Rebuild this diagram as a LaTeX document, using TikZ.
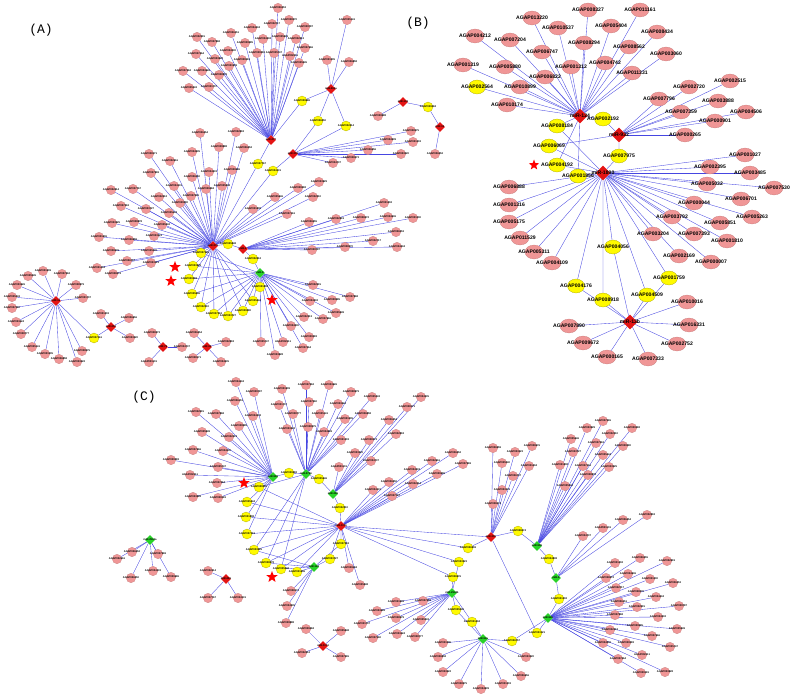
\documentclass[tikz,border=0pt]{standalone}
\usepackage{fontspec}
\setmainfont{Liberation Sans}
\newfontfamily\panelfnt{Liberation Mono}
\usetikzlibrary{shapes.geometric}

\definecolor{genepink}{RGB}{240,150,150}
\definecolor{tgtyellow}{RGB}{255,250,0}
\definecolor{mirred}{RGB}{228,20,20}
\definecolor{mirgreen}{RGB}{40,210,40}
\definecolor{linkblue}{RGB}{70,70,225}

\pgfdeclarelayer{edges}
\pgfsetlayers{edges,main}

\newcommand{\tinyfont}{\fontsize{2.6}{2.6}\selectfont\bfseries}
\newcommand{\bfont}{\fontsize{5.1}{5.1}\selectfont\bfseries}
% gene ids for the unreadable small labels
\newcommand{\agapid}[1]{\pgfmathtruncatemacro\agapnum{1000+mod((#1)*53,89)*101}AGAP00\agapnum}

\tikzset{
  link/.style={draw=linkblue, line width=.35pt},
  gene/.style={circle, fill=genepink, draw=genepink!80!black, line width=.2pt,
    minimum size=9.5pt, inner sep=0pt,
    label={[font=\tinyfont, inner sep=0pt]center:#1}},
  tgt/.style={circle, fill=tgtyellow, draw=tgtyellow!60!black, line width=.2pt,
    minimum size=10pt, inner sep=0pt,
    label={[font=\tinyfont, inner sep=0pt]center:#1}},
  mir/.style={diamond, fill=mirred, minimum size=10pt, inner sep=0pt,
    label={[font=\tinyfont, inner sep=0pt]center:#1}},
  mirg/.style={diamond, fill=mirgreen, minimum size=10pt, inner sep=0pt,
    label={[font=\tinyfont, inner sep=0pt]center:#1}},
  bgene/.style={ellipse, fill=genepink, draw=genepink!80!black, line width=.2pt,
    minimum width=18pt, minimum height=14pt, inner sep=0pt,
    label={[font=\bfont, inner sep=0pt]center:#1}},
  btgt/.style={ellipse, fill=tgtyellow, draw=tgtyellow!60!black, line width=.2pt,
    minimum width=17pt, minimum height=14pt, inner sep=0pt,
    label={[font=\bfont, inner sep=0pt]center:#1}},
  bmir/.style={diamond, fill=mirred, minimum size=15pt, inner sep=0pt,
    label={[font=\bfont, inner sep=0pt]center:#1}},
  hit/.style={star, star points=5, star point ratio=2.4, fill=red,
    minimum size=12pt, inner sep=0pt},
  panel/.style={font=\panelfnt\fontsize{13}{13}\selectfont, inner sep=0pt}
}

% leaf lists (x/y), one per miRNA
\def\aOne{278/8,272/24,289/20,252/28,305/27,231/33,197/37,212/42,
    263/39,245/43,280/37,296/39,305/48,228/51,257/53,274/53,290/56,196/54,215/59,
    242/60,299/63,229/66,183/71,202/71,219/75,189/88,209/87}
\def\aTwo{347/20,327/60,349/62}
\def\aThree{411/131,388/140,413/142,368/150,401/154,351/158,333/163}
\def\aZero{200/133,236/132,149/154,192/152,219/147,244/148,170/161,
    151/173,209/172,232/170,192/177,111/190,133/189,174/186,206/189,222/186,159/197,
    191/196,319/182,298/188,275/197,313/197,121/206,146/209,180/203,169/213,253/209,
    287/214,112/223,134/222,162/225,99/237,129/240,154/236,111/251,149/251,97/268,
    127/261,151/263,113/274}
\def\aFour{384/203,309/222,336/219,361/218,388/217,413/218,396/232,
    373/241,345/247,397/247,312/250}
\def\aFive{313/285,350/297,310/301,332/300,336/313,304/317,323/319,
    291/326,309/337,261/342,283/342,303/348,275/355}
\def\aSix{28/276,43/271,62/274,17/285,76/285,12/297,83/298,12/308,
    16/322,21/334,32/347,45/354,59/359,77/362,82/351}
\def\aSmall{101/314/a7,129/318/a7,130/338/a7,152/333/a8,
    182/347/a8,149/362/a8,194/333/a9,226/342/a9,193/358/a9,221/362/a9,
    378/116/a10,435/154/a11}
\def\aShared{302/101/a1/a2,318/121/a2/a3,346/126/a2/a3,
    258/164/a1/a0,273/171/a3/a0,428/107/a10/a11,228/244/a0/a4,253/259/a4/a5,
    201/253/a0/a5,193/266/a0/a5,189/279/a0/a5,192/294/a0/a5,201/307/a0/a5,
    214/314/a0/a5,228/316/a0/a5,243/311/a0/a5,253/301/a0/a5,260/287/a0/a5,
    94/338/a6/a7}
\def\bOne{013220/532/18,008327/588/10,011161/640/10,010537/558/28,
    005404/611/26,008434/657/32,004212/475/36,007204/510/40,008294/584/43,
    008562/629/47,006747/542/52,003060/666/54,001319/463/65,005880/505/67,
    004742/605/63,001312/571/67,006822/545/77,011331/632/73,010899/520/87,
    010174/507/105}
\def\bTwo{002515/730/81,002720/689/87,007796/659/99,003888/718/101,
    007359/681/112,004506/746/112,000901/715/121,000265/685/135}
\def\bThree{001027/745/155,002395/710/167,003485/750/173,005032/707/184,
    007530/774/188,006701/741/199,006888/509/187,001316/509/205,000044/694/203,
    005175/509/222,003792/672/217,005851/720/223,005263/752/217,011529/520/238,
    003204/653/234,007393/694/234,001810/727/241,005311/534/252,002169/679/256,
    000007/711/262,004109/552/263}
\def\bFour{010016/687/302,007890/569/326,016331/689/325,009672/583/343,
    002752/677/344,000165/607/357,007333/648/359}
\def\bShared{002192/603/119/b1/b2,008184/557/126/b1/b3,
    006069/549/146/b2/b3,004192/557/165/b1/b3,001856/578/176/b1/b3,
    007975/619/156/b2/b3,004056/613/247/b3/b4,001759/669/278/b3/b4,
    004176/576/286/b3/b4,004509/647/295/b3/b4,008918/603/300/b3/b4}
\def\cOne{236/382,254/392,235/401,196/412,216/414,253/416,239/426,
    202/432,229/437,193/450,223/451,171/460,218/467,190/475,217/483,193/497,218/498}
\def\cTwo{282/389,306/385,329/385,351/392,372/397,279/405,309/402,
    338/404,293/414,320/414,345/419,363/414,287/429,308/427,324/432,341/440}
\def\cThree{355/453,369/440,371/461,339/467,389/420,396/434,407/407,421/397}
\def\cFour{453/453,432/461,463/464,412/470,437/474,389/482,413/484,
    392/496,373/490,349/568,360/585}
\def\cTen{603/421,587/428,632/428,571/439,610/434,596/443,573/452,
    623/446,603/455,560/465,583/466,609/467,588/475,565/486}
\def\cNine{493/448,515/452,532/446,502/463,529/466,513/476,502/490,493/504}
\def\cThirteen{615/563,640/558,667/561,606/578,628/574,650/579,673/583,
    616/588,636/592,656/597,679/606,619/602,637/607,615/615,658/617,635/626,677/629,
    610/630,652/636,603/643,626/643,670/647,642/655,618/659,665/672,641/673}
\def\cEleven{396/602,423/601,377/611,396/618,421/620,362/624,373/638,397/634,415/637}
\def\cTwelve{443/643,438/657,443/672,459/684,481/689,503/684,521/676,526/657}
\def\cSmall{583/536/c14,603/528/c14,623/520/c14,647/515/c14,
    291/591/c5,287/606/c5,286/623/c5,132/552/c6,117/559/c6,158/554/c6,153/571/c6,
    171/577/c6,131/578/c6,208/571/c7,208/598/c7,238/598/c7,306/629/c8,341/631/c8,
    302/653/c8,341/657/c8}
\def\cShared{289/473/c1/c2,319/479/c2/c3,340/508/c3/c4,
    341/544/c4/c5,330/559/c4/c5,259/487/c1/c4,247/502/c1/c4,246/517/c1/c4,
    247/534/c1/c4,254/550/c5/c4,266/563/c5/c2,281/569/c5/c2,297/572/c5/c4,
    468/548/c4/c9,459/562/c4/c11,453/577/c4/c11,456/610/c11/c12,472/622/c11/c12,
    512/641/c12/c13,537/633/c9/c13,518/531/c9/c10,549/559/c10/c14,559/599/c14/c13}

\begin{document}
\begin{tikzpicture}[x=1pt, y=-1pt]
\useasboundingbox (0,0) rectangle (793,698);

%% ---------------- panel A ----------------
\node[panel] (pa) at (41,30) {(A)};

\node[mir={miR-277}] (a1) at (271,140) {};
\node[mir={miR-263a}] (a2) at (331,89) {};
\node[mir={miR-309}] (a3) at (293,154) {};
\node[mir={miR-375}] (a0) at (213,246) {};
\node[mir={miR-2}] (a4) at (243,249) {};
\node[mirg={miR-8}] (a5) at (260,273) {};
\node[mir={miR-14}] (a6) at (56,301) {};
\node[mir={miR-252}] (a7) at (111,327) {};
\node[mir={miR-79}] (a8) at (163,347) {};
\node[mir={miR-34}] (a9) at (207,347) {};
\node[mir={miR-133}] (a10) at (403,102) {};
\node[mir={miR-12}] (a11) at (440,127) {};

\foreach \x/\y [count=\i] in \aOne {\node[gene=\agapid{\i}] (a1g\i) at (\x,\y) {};}
\foreach \x/\y [count=\i] in \aTwo {\node[gene=\agapid{\i+30}] (a2g\i) at (\x,\y) {};}
\foreach \x/\y [count=\i] in \aThree {\node[gene=\agapid{\i+34}] (a3g\i) at (\x,\y) {};}
\foreach \x/\y [count=\i] in \aZero {\node[gene=\agapid{\i+42}] (a0g\i) at (\x,\y) {};}
\foreach \x/\y [count=\i] in \aFour {\node[gene=\agapid{\i+83}] (a4g\i) at (\x,\y) {};}
\foreach \x/\y [count=\i] in \aFive {\node[gene=\agapid{\i+95}] (a5g\i) at (\x,\y) {};}
\foreach \x/\y [count=\i] in \aSix {\node[gene=\agapid{\i+109}] (a6g\i) at (\x,\y) {};}
\foreach \x/\y/\h [count=\i] in \aSmall {\node[gene=\agapid{\i+125}] (asg\i) at (\x,\y) {};}
\foreach \x/\y/\p/\q [count=\i] in \aShared {\node[tgt=\agapid{\i+140}] (ay\i) at (\x,\y) {};}
\node[hit] (as1) at (175,267) {};
\node[hit] (as2) at (171,281) {};
\node[hit] (as3) at (272,300) {};

%% ---------------- panel B ----------------
\node[panel] (pb) at (418,23) {(B)};

\node[bmir={miR-124}] (b1) at (580,116) {};
\node[bmir={miR-932}] (b2) at (619,135) {};
\node[bmir={miR-1890}] (b3) at (603,173) {};
\node[bmir={miR-13b}] (b4) at (630,322) {};

\foreach \g/\x/\y in \bOne {\node[bgene={AGAP\g}] (bg\g) at (\x,\y) {};}
\foreach \g/\x/\y in \bTwo {\node[bgene={AGAP\g}] (bg\g) at (\x,\y) {};}
\foreach \g/\x/\y in \bThree {\node[bgene={AGAP\g}] (bg\g) at (\x,\y) {};}
\foreach \g/\x/\y in \bFour {\node[bgene={AGAP\g}] (bg\g) at (\x,\y) {};}
\node[btgt={AGAP002564}] (by002564) at (477,87) {};
\foreach \g/\x/\y/\p/\q in \bShared {\node[btgt={AGAP\g}] (by\g) at (\x,\y) {};}
\node[hit, minimum size=11pt] (bs1) at (534,165) {};

%% ---------------- panel C ----------------
\node[panel] (pc) at (144,397) {(C)};

\node[mirg={miR-989}] (c1) at (273,477) {};
\node[mirg={miR-2796}] (c2) at (306,474) {};
\node[mirg={miR-286}] (c3) at (333,494) {};
\node[mir={miR-1175}] (c4) at (341,526) {};
\node[mirg={miR-124}] (c5) at (314,567) {};
\node[mirg={miR-2944a}] (c6) at (150,540) {};
\node[mir={miR-281}] (c7) at (226,579) {};
\node[mir={miR-1174}] (c8) at (323,646) {};
\node[mir={miR-305}] (c9) at (491,537) {};
\node[mirg={miR-996}] (c10) at (537,546) {};
\node[mirg={miR-2944b}] (c11) at (452,593) {};
\node[mirg={miR-92a}] (c12) at (483,639) {};
\node[mirg={miR-92b}] (c13) at (548,618) {};
\node[mirg={miR-8}] (c14) at (556,578) {};

\foreach \x/\y [count=\i] in \cOne {\node[gene=\agapid{\i+3}] (c1g\i) at (\x,\y) {};}
\foreach \x/\y [count=\i] in \cTwo {\node[gene=\agapid{\i+21}] (c2g\i) at (\x,\y) {};}
\foreach \x/\y [count=\i] in \cThree {\node[gene=\agapid{\i+38}] (c3g\i) at (\x,\y) {};}
\foreach \x/\y [count=\i] in \cFour {\node[gene=\agapid{\i+47}] (c4g\i) at (\x,\y) {};}
\foreach \x/\y [count=\i] in \cTen {\node[gene=\agapid{\i+59}] (c10g\i) at (\x,\y) {};}
\foreach \x/\y [count=\i] in \cNine {\node[gene=\agapid{\i+74}] (c9g\i) at (\x,\y) {};}
\foreach \x/\y [count=\i] in \cThirteen {\node[gene=\agapid{\i+83}] (c13g\i) at (\x,\y) {};}
\foreach \x/\y [count=\i] in \cEleven {\node[gene=\agapid{\i+110}] (c11g\i) at (\x,\y) {};}
\foreach \x/\y [count=\i] in \cTwelve {\node[gene=\agapid{\i+120}] (c12g\i) at (\x,\y) {};}
\foreach \x/\y/\h [count=\i] in \cSmall {\node[gene=\agapid{\i+129}] (csg\i) at (\x,\y) {};}
\foreach \x/\y/\p/\q [count=\i] in \cShared {\node[tgt=\agapid{\i+150}] (cy\i) at (\x,\y) {};}
\node[hit] (cs1) at (244,483) {};
\node[hit] (cs2) at (272,577) {};

%% ---------------- all connectors, behind the nodes ----------------
\begin{pgfonlayer}{edges}
  \foreach \x/\y [count=\i] in \aOne {\draw[link] (a1) -- (a1g\i);}
  \foreach \x/\y [count=\i] in \aTwo {\draw[link] (a2) -- (a2g\i);}
  \foreach \x/\y [count=\i] in \aThree {\draw[link] (a3) -- (a3g\i);}
  \foreach \x/\y [count=\i] in \aZero {\draw[link] (a0) -- (a0g\i);}
  \foreach \x/\y [count=\i] in \aFour {\draw[link] (a4) -- (a4g\i);}
  \foreach \x/\y [count=\i] in \aFive {\draw[link] (a5) -- (a5g\i);}
  \foreach \x/\y [count=\i] in \aSix {\draw[link] (a6) -- (a6g\i);}
  \foreach \x/\y/\h [count=\i] in \aSmall {\draw[link] (\h) -- (asg\i);}
  \foreach \x/\y/\p/\q [count=\i] in \aShared {\draw[link] (\p) -- (ay\i) -- (\q);}

  \foreach \g/\x/\y in \bOne {\draw[link] (b1) -- (bg\g);}
  \foreach \g/\x/\y in \bTwo {\draw[link] (b2) -- (bg\g);}
  \foreach \g/\x/\y in \bThree {\draw[link] (b3) -- (bg\g);}
  \foreach \g/\x/\y in \bFour {\draw[link] (b4) -- (bg\g);}
  \draw[link] (b1) -- (by002564);
  \foreach \g/\x/\y/\p/\q in \bShared {\draw[link] (\p) -- (by\g) -- (\q);}

  \foreach \x/\y [count=\i] in \cOne {\draw[link] (c1) -- (c1g\i);}
  \foreach \x/\y [count=\i] in \cTwo {\draw[link] (c2) -- (c2g\i);}
  \foreach \x/\y [count=\i] in \cThree {\draw[link] (c3) -- (c3g\i);}
  \foreach \x/\y [count=\i] in \cFour {\draw[link] (c4) -- (c4g\i);}
  \foreach \x/\y [count=\i] in \cTen {\draw[link] (c10) -- (c10g\i);}
  \foreach \x/\y [count=\i] in \cNine {\draw[link] (c9) -- (c9g\i);}
  \foreach \x/\y [count=\i] in \cThirteen {\draw[link] (c13) -- (c13g\i);}
  \foreach \x/\y [count=\i] in \cEleven {\draw[link] (c11) -- (c11g\i);}
  \foreach \x/\y [count=\i] in \cTwelve {\draw[link] (c12) -- (c12g\i);}
  \foreach \x/\y/\h [count=\i] in \cSmall {\draw[link] (\h) -- (csg\i);}
  \foreach \x/\y/\p/\q [count=\i] in \cShared {\draw[link] (\p) -- (cy\i) -- (\q);}
  \draw[link] (c4) -- (c9);
  \draw[link] (cy11) -- (c4) -- (cy12);
  \draw[link] (cy6) -- (c2) -- (cy10);
\end{pgfonlayer}

\end{tikzpicture}
\end{document}
